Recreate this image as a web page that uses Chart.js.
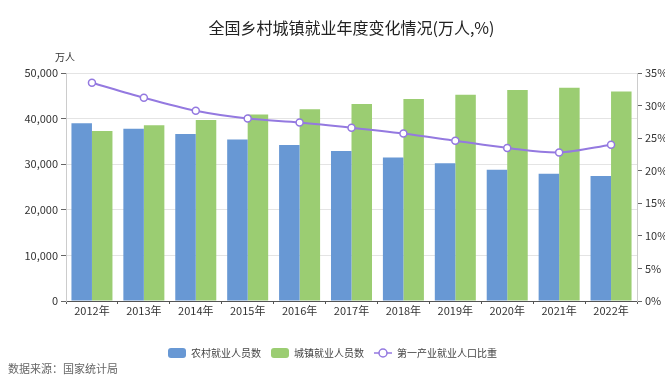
<!DOCTYPE html>
<html>
<head>
<meta charset="utf-8">
<script src="https://cdn.jsdelivr.net/npm/chart.js@4"></script>
<style>
html,body{margin:0;padding:0;background:#fff;}
#wrap{width:665px;height:378px;position:relative;}
</style>
</head>
<body>
<div id="wrap"><canvas id="c" width="665" height="378"></canvas></div>
<script>
const categories = ['2012年','2013年','2014年','2015年','2016年','2017年','2018年','2019年','2020年','2021年','2022年'];
const ruralEmployed = [38967, 37774, 36646, 35404, 34213, 32872, 31490, 30198, 28793, 27879, 27420];
const urbanEmployed = [37287, 38527, 39703, 40916, 42051, 43208, 44292, 45249, 46271, 46773, 45931];
const primaryShare = [33.5, 31.2, 29.2, 28.0, 27.4, 26.6, 25.7, 24.6, 23.5, 22.8, 24.0];
const seriesNames = ['农村就业人员数', '城镇就业人员数', '第一产业就业人口比重'];
const titleText = '全国乡村城镇就业年度变化情况(万人,%)';
const unitText = '万人';
const sourceText = '数据来源：国家统计局';

const FONT = '"Noto Sans CJK SC", "Noto Sans", sans-serif';
const BLUE = '#6898d4', GREEN = '#9bcd72', PURPLE = '#9479e0';

const textPlugin = {
  id: 'texts',
  afterDraw(chart) {
    const ctx = chart.ctx, ca = chart.chartArea;
    ctx.save();
    ctx.fillStyle = '#222';
    ctx.font = '16px ' + FONT;
    ctx.textAlign = 'center';
    ctx.textBaseline = 'middle';
    ctx.fillText(titleText, (ca.left + ca.right) / 2, 28);
    ctx.fillStyle = '#333';
    ctx.font = '10px ' + FONT;
    ctx.fillText(unitText, 65, 57);
    ctx.textAlign = 'left';
    ctx.fillStyle = '#666';
    ctx.font = '11px ' + FONT;
    ctx.fillText(sourceText, 8, 369);
    const lg = chart.legend;
    if (lg && lg.legendHitBoxes && lg.legendHitBoxes[2]) {
      const hb = lg.legendHitBoxes[2];
      const cy = hb.top + hb.height / 2;
      const x0 = hb.left, x1 = hb.left + 18;
      ctx.strokeStyle = PURPLE;
      ctx.lineWidth = 1.5;
      ctx.beginPath(); ctx.moveTo(x0, cy); ctx.lineTo(x1, cy); ctx.stroke();
      ctx.beginPath(); ctx.arc((x0 + x1) / 2, cy, 4, 0, Math.PI * 2);
      ctx.fillStyle = '#fff'; ctx.fill(); ctx.stroke();
    }
    ctx.restore();
  }
};

new Chart(document.getElementById('c'), {
  data: {
    labels: categories,
    datasets: [
      { type: 'line', label: seriesNames[2], data: primaryShare, yAxisID: 'y1', order: 0,
        borderColor: PURPLE, borderWidth: 2, tension: 0.3,
        pointRadius: 3.5, pointBackgroundColor: '#fff', pointBorderColor: PURPLE, pointBorderWidth: 1.5 },
      { type: 'bar', label: seriesNames[0], data: ruralEmployed, yAxisID: 'y', order: 1,
        backgroundColor: BLUE, borderWidth: 0,
        barPercentage: 1, categoryPercentage: 0.79 },
      { type: 'bar', label: seriesNames[1], data: urbanEmployed, yAxisID: 'y', order: 1,
        backgroundColor: GREEN, borderWidth: 0,
        barPercentage: 1, categoryPercentage: 0.79 }
    ]
  },
  options: {
    responsive: false,
    animation: false,
    layout: { padding: { top: 73, bottom: 10, left: 0, right: 0 } },
    plugins: {
      title: { display: false },
      tooltip: { enabled: false },
      legend: {
        position: 'bottom',
        labels: {
          font: { size: 10, family: FONT },
          color: '#444',
          boxWidth: 18, boxHeight: 10, padding: 10, useBorderRadius: true, borderRadius: 3,
          generateLabels(chart) {
            const order = [1, 2, 0];
            return order.map(i => {
              const ds = chart.data.datasets[i];
              const isLine = ds.type === 'line';
              return {
                text: ds.label,
                fillStyle: isLine ? 'rgba(0,0,0,0)' : ds.backgroundColor,
                strokeStyle: 'rgba(0,0,0,0)',
                lineWidth: 0,
                borderRadius: 3,
                fontColor: '#444',
                datasetIndex: i,
                hidden: false
              };
            });
          }
        }
      }
    },
    scales: {
      x: {
        type: 'category',
        offset: true,
        afterFit(s) { s.height = 37; },
        grid: { display: true, drawOnChartArea: false, drawTicks: true, tickLength: 3, color: '#555', offset: true },
        border: { display: true, color: '#555' },
        ticks: { font: { size: 11, family: FONT }, color: '#333', padding: 0, maxRotation: 0 }
      },
      y: {
        position: 'left',
        min: 0, max: 50000,
        afterFit(s) { s.width = 66; },
        ticks: { stepSize: 10000, font: { size: 11, family: FONT }, color: '#333', padding: 3,
                 callback: v => v.toLocaleString('en-US') },
        grid: { color: '#e4e4e4', tickColor: '#666', tickLength: 5 },
        border: { display: true, color: '#ccc' }
      },
      y1: {
        position: 'right',
        min: 0, max: 35,
        afterFit(s) { s.width = 28; },
        ticks: { stepSize: 5, font: { size: 11, family: FONT }, color: '#333', padding: 3,
                 callback: v => v + '%' },
        grid: { drawOnChartArea: false, tickColor: '#666', tickLength: 5 },
        border: { display: true, color: '#ccc' }
      }
    }
  },
  plugins: [textPlugin]
});
</script>
</body>
</html>
